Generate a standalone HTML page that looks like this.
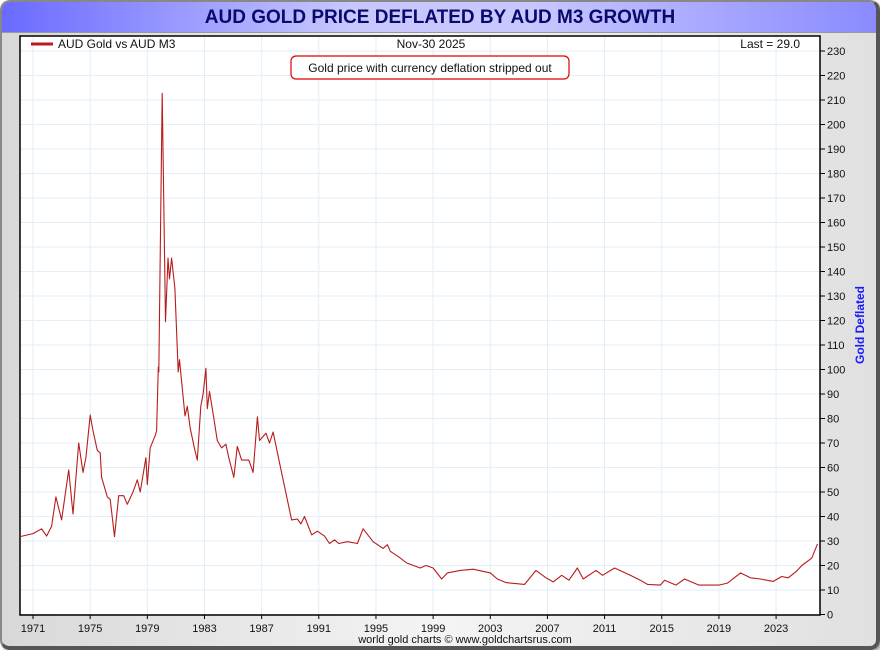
<!DOCTYPE html>
<html><head><meta charset="utf-8"><style>
body{margin:0;width:880px;height:650px;overflow:hidden;background:#fff;font-family:"Liberation Sans",sans-serif}
#frame{position:absolute;left:0;top:0;width:874px;height:644px;border:2px solid #888;border-right:4px solid #555;border-bottom:4px solid #555;border-radius:10px;background:linear-gradient(90deg,#d8d8d8,#f4f4f4 50%,#e0e0e0);overflow:hidden;box-shadow:2px 2px 3px #999}
#title{position:absolute;left:0;top:0;width:876px;height:30px;background:linear-gradient(90deg,#6a6aff,#c8c8ff 40%,#c8c8ff 60%,#8a8aff);border-bottom:1px solid #999;text-align:center;font-weight:bold;font-size:19px;line-height:31px;color:#0a0a6e}
svg{position:absolute;left:0;top:0}
</style></head><body>
<div id="frame">
<div id="title">AUD GOLD PRICE DEFLATED BY AUD M3 GROWTH</div>
</div>
<svg id="chart" width="880" height="650"></svg>
<script>
const years=[1970.1,1971,1971.6,1971.95,1972.3,1972.6,1973,1973.5,1973.8,1974.2,1974.5,1974.7,1975,1975.2,1975.5,1975.7,1975.8,1976.2,1976.4,1976.7,1977,1977.35,1977.6,1978,1978.3,1978.5,1978.9,1979,1979.2,1979.55,1979.65,1979.77,1979.8,1980.04,1980.27,1980.45,1980.55,1980.7,1980.93,1981.16,1981.25,1981.64,1981.8,1982,1982.33,1982.5,1982.74,1982.9,1983.1,1983.2,1983.35,1983.55,1983.9,1984.2,1984.5,1984.7,1985.05,1985.3,1985.6,1986.1,1986.4,1986.7,1986.85,1987.3,1987.55,1987.8,1988.25,1988.5,1989.1,1989.5,1989.75,1990,1990.5,1990.9,1991.4,1991.75,1992.1,1992.4,1993,1993.7,1994.1,1994.8,1995.5,1995.8,1996,1996.6,1997.15,1998.1,1998.5,1999,1999.6,2000,2000.9,2001.8,2003,2003.5,2004.1,2005.4,2006.2,2006.9,2007.4,2008,2008.5,2009.1,2009.5,2010.4,2010.85,2011.7,2012.8,2013.5,2014,2014.9,2015.2,2016,2016.6,2017.6,2019,2019.6,2020.3,2020.5,2021.2,2021.9,2022.8,2023.4,2023.85,2024.4,2024.8,2025.5,2025.9];
const values=[31.8,33,35,32,36,48,38.6,59,41,70,58,64,81.4,75,67,66,56,48,47,31.8,48.5,48.5,45,50,55,50,64,53,68,73,75,101,99,212.7,119.5,145.5,137,145.5,133,99,104,81,85,76,67,63,85,90,100.5,84,91,84,71,68,69.5,64,56,68.6,63,63,58,80.7,71,74,70,74.5,62,55,38.6,39,37,40,32.5,34,32,29,30.5,29,29.7,29,35,29.7,27,28.5,25.8,23.5,21,19,20,19,14.5,17,18,18.5,17,14.5,13,12.3,18,15,13.3,16,14,19,14.5,18,16,19,16,14,12.3,12,14,12,14.5,12,12,12.8,16,17,15,14.5,13.5,15.5,15,17.5,20,23,28.8];
const yTicks=[0,10,20,30,40,50,60,70,80,90,100,110,120,130,140,150,160,170,180,190,200,210,220,230];
const xTicks=[1971,1975,1979,1983,1987,1991,1995,1999,2003,2007,2011,2015,2019,2023];
const L=20,R=820,T=36,B=615;
const x=yr=>33+(yr-1971)*14.29;
const y=v=>614.5-v*2.45;
const svg=document.getElementById('chart');
const NS='http://www.w3.org/2000/svg';
function mk(tag,attrs,parent){const e=document.createElementNS(NS,tag);for(const k in attrs)e.setAttribute(k,attrs[k]);(parent||svg).appendChild(e);return e;}
const bg=mk('rect',{x:L,y:T,width:R-L,height:B-T,fill:'#fff'});


yTicks.forEach(v=>{
 const g=mk('line',{x1:L,x2:R,y1:y(v),y2:y(v),stroke:'#e2eef8','stroke-width':1});
 
 
 mk('line',{x1:R,x2:R+5,y1:y(v),y2:y(v),stroke:'#000'});
 const t=mk('text',{x:R+7,y:y(v)+4,'font-size':11,fill:'#111'});t.textContent=v;
 
 
});
xTicks.forEach(yr=>{
 const g=mk('line',{x1:x(yr),x2:x(yr),y1:T,y2:B,stroke:'#e2eef8','stroke-width':1});
 
 
 mk('line',{x1:x(yr),x2:x(yr),y1:B,y2:B+4,stroke:'#000'});
 const t=mk('text',{x:x(yr),y:632,'font-size':11,fill:'#111','text-anchor':'middle'});t.textContent=yr;
 
 
});
const fr=mk('rect',{x:L,y:T,width:R-L,height:B-T,fill:'none',stroke:'#000','stroke-width':1.5});


const d=years.map((yr,i)=>(i?'L':'M')+x(yr).toFixed(1)+' '+y(values[i]).toFixed(1)).join(' ');
const line=mk('path',{d:d,fill:'none',stroke:'#b81c1c','stroke-width':1.1,'stroke-linejoin':'round'});


const lg=mk('line',{x1:31,x2:53,y1:44,y2:44,stroke:'#b81c1c','stroke-width':3});


const lt=mk('text',{x:58,y:48,'font-size':12,fill:'#111'});lt.textContent='AUD Gold vs AUD M3';


const dt=mk('text',{x:431,y:48,'font-size':12,fill:'#111','text-anchor':'middle'});dt.textContent='Nov-30  2025';


const la=mk('text',{x:800,y:48,'font-size':12,fill:'#111','text-anchor':'end'});la.textContent='Last = 29.0';


const ab=mk('rect',{x:291,y:56,width:278,height:23,rx:5,fill:'#fff',stroke:'#d00','stroke-width':1.2});


const at=mk('text',{x:430,y:72,'font-size':12,fill:'#111','text-anchor':'middle'});at.textContent='Gold price with currency deflation stripped out';


const yt=mk('text',{x:864,y:325,'font-size':12,'font-weight':'bold',fill:'#1a1aff','text-anchor':'middle',transform:'rotate(-90 864 325)'});yt.textContent='Gold Deflated';


const ft=mk('text',{x:465,y:643,'font-size':11,fill:'#111','text-anchor':'middle'});ft.textContent='world gold charts © www.goldchartsrus.com';


</script>
</body></html>
